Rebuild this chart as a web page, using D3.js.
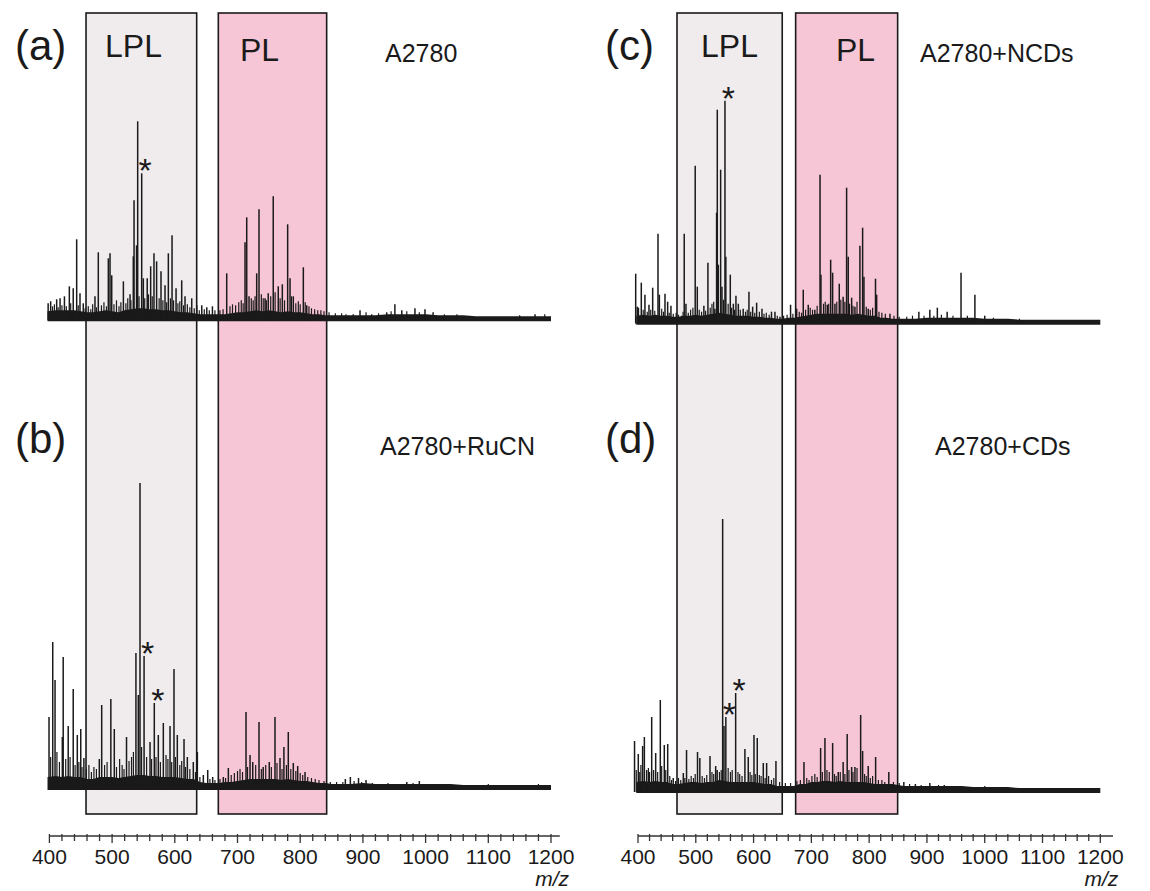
<!DOCTYPE html>
<html><head><meta charset="utf-8">
<script src="https://cdn.jsdelivr.net/npm/d3@7"></script>
<style>
body{margin:0;background:#fff}
svg{display:block}
text{font-family:"Liberation Sans",Arial,sans-serif;fill:#1a1a1a}
</style>
</head><body>
<svg id="c" width="1150" height="891"></svg>
<script>
// ---------------- DATA ----------------
const tickValues = [400,500,600,700,800,900,1000,1100,1200];
const axisTitle = "m/z";
const panelLabels = ["(a)","(b)","(c)","(d)"];
const sampleNames = ["A2780","A2780+RuCN","A2780+NCDs","A2780+CDs"];
const regionNames = ["LPL","PL"];
// m/z ranges of the shaded regions (left column, right column)
const regionsLeft  = [[458.4,634.9],[669.4,842.2]];
const regionsRight = [[467.5,649.6],[672.8,849.3]];

// baseline noise envelope (relative intensity) sampled at these m/z
const noiseGrid = [397,410,420,430,440,450,460,470,480,490,500,510,520,530,540,550,560,570,580,590,600,610,620,630,640,650,660,670,680,690,700,710,720,730,740,750,760,770,780,790,800,810,820,830,840,850,860,880,900,920,940,960,980,1000,1020,1040,1060,1080,1100,1120,1140,1160,1180,1200];
const noiseA = [7,8,8,8,8,7,6,6,7,8,7,6,8,9,10,10,9,9,8,8,7,6,6,5,4,4,4,4,4,5,6,6,7,8,7,8,7,6,7,6,6,5,4,4,3,3,3,3,3,3,4,4,4,4,3,3,3,2,2,2,2,2,2,2];
const noiseB = [10,11,10,11,10,10,8,8,10,10,10,9,10,11,12,12,11,11,10,10,10,9,8,8,5,4,4,4,5,5,6,7,8,8,8,8,8,7,8,7,6,6,5,4,4,3,3,3,4,3,3,3,3,3,3,3,2,2,2,2,2,2,2,2];
const noiseC = [6,7,6,7,6,6,5,5,6,6,7,6,7,8,9,8,7,6,6,6,5,5,4,4,3,3,4,4,5,6,7,8,8,8,8,8,8,7,8,7,6,6,4,4,3,3,3,3,4,4,4,4,4,3,3,3,2,2,2,2,2,2,2,2];
const noiseD = [8,9,8,9,8,8,6,6,7,8,8,7,8,8,10,9,8,8,8,8,8,7,6,6,4,4,4,4,6,6,8,8,9,9,8,9,8,8,8,8,7,6,6,6,6,5,4,4,4,4,4,4,3,3,3,3,2,2,2,2,2,2,2,2];

// main peaks: [m/z, relative intensity]
const peaksA = [[398,15],[402,17],[411.6,19],[417,20],[424,22],[431.8,32],[438,30],[443.5,79],[448.8,25],[454,15],[472.7,22],[478,66],[494,60],[496.7,65],[499.4,43],[518,37],[528.6,24],[533.8,62],[535,118],[539,73],[540.8,197],[547.2,145],[549.8,40],[556,40],[561.5,52],[566.8,65],[571,57],[578,47],[584.4,33],[589.7,65],[595.6,83],[602,30],[611,38],[616.3,22],[627,20],[635,13],[643,13],[651,11],[660,12],[682.8,45],[712,76],[714.7,101],[718.4,22],[730.6,45],[734.3,109],[744,20],[749,25],[757,122],[765,32],[771.5,34],[780,94],[783.8,40],[789,22],[805,51],[810.4,13],[884.7,4],[895.4,8],[914,4],[938,6],[951,14],[962,8],[983,10],[999,9],[1012,6],[1174.5,4]];
const peaksB = [[399.4,70],[405.3,145],[409,107],[420.6,50],[422,130],[430,61],[438,98],[444.5,52],[450,58],[455,29],[479.6,28],[483.4,82],[498,88],[503.5,58],[523,50],[538,134],[541.8,92],[544.5,304],[551,131],[560.5,45],[567.3,84],[573.7,52],[581.7,64],[592.4,61],[598.7,118],[604,52],[614.7,48],[620,30],[629.5,25],[636,35],[645.5,12],[652.5,17],[660.4,10],[677.4,10],[685.4,19],[713.6,75],[720,32],[724.3,25],[734.3,65],[741,20],[750.7,25],[759.8,70],[767.8,29],[774,40],[781,55],[789,24],[796,21],[807.7,15],[872,8],[880,10],[893,9],[905,7],[970,5],[990,6]];
const peaksC = [[396,48],[398.8,15],[405.7,39],[412,27],[419,17],[425.4,34],[434.6,88],[437,27],[446.7,28],[451.3,20],[457,16],[475.6,6],[480,88],[483,18],[499,156],[502.6,35],[514,16],[521,59],[533,13],[536,109],[537.2,212],[539,57],[543,152],[545.3,35],[550.5,221],[552,65],[559.7,47],[565,18],[569.5,26],[573.6,18],[582,13],[592,30],[598.4,15],[605.3,19],[614.5,13],[631,10],[637,10],[645.7,5],[664,17],[674.5,13],[686,32],[694.6,17],[706,12],[715,147],[716.6,47],[727.5,17],[733.4,62],[736.8,49],[740.8,18],[748.3,38],[755,25],[761,134],[763.8,65],[769.7,24],[775.4,15],[784,76],[788.7,94],[791,45],[798.4,13],[811,43],[813,27],[836,8],[886,10],[905,12],[918,14],[935,10],[959,49],[983,27],[1000,6]];
const peaksD = [[394,49],[400.5,36],[408,44],[411,53],[415,20],[423.7,73],[430.6,37],[438.6,90],[445.5,45],[451.4,46],[461,12],[478.4,17],[484,40],[503,38],[507,32],[524.6,34],[534.4,24],[537,20],[546.5,271],[548.8,64],[552,73],[569,97],[585,41],[590.8,33],[600.7,55],[606.4,52],[616.8,27],[622.6,27],[638.7,29],[687.2,28],[716,42],[723.5,52],[736.8,47],[746.5,18],[755,28],[762,56],[769.7,23],[775.4,23],[785.3,75],[788.7,39],[798.4,24],[811.2,33],[834,18],[860,8],[880,6],[905,7],[930,5]];

// small noise spikes: [m/z, relative intensity]
const minorA = [[405,12],[408,14],[414,11],[420,13],[427,12],[434,15],[446,13],[457,10],[462,12],[466,9],[469,14],[475,11],[483,13],[487,16],[491,12],[503,14],[507,18],[511,12],[514,16],[522,15],[525,20],[530,18],[543,22],[552,20],[558,24],[564,22],[575,20],[581,18],[587,16],[593,20],[598,18],[605,15],[608,17],[614,13],[620,14],[624,11],[631,10],[639,8],[647,9],[655,8],[664,8],[672,8],[677,9],[688,12],[692,14],[697,13],[702,16],[706,18],[709,15],[722,20],[725,18],[728,22],[738,24],[741,20],[746,18],[753,22],[760,26],[768,20],[775,18],[786,22],[793,15],[797,17],[800,14],[808,16],[814,12],[818,10],[823,9],[828,8],[833,8],[838,7],[846,6],[856,5],[866,5],[873,4],[905,6],[925,5],[945,7],[970,7],[990,6],[1030,4],[1050,4],[1150,3],[1190,4]];
const minorB = [[402,30],[412,35],[416,25],[426,28],[433,30],[441,22],[447,25],[452,20],[459,18],[463,22],[467,15],[471,20],[475,18],[488,22],[492,25],[507,20],[512,28],[516,22],[519,18],[527,26],[531,30],[534,35],[547,40],[555,30],[563,28],[570,30],[577,25],[586,32],[589,28],[595,25],[601,30],[608,22],[611,26],[617,20],[624,18],[633,15],[640,10],[656,8],[664,7],[672,8],[681,9],[690,12],[695,14],[700,16],[704,18],[708,15],[716,20],[729,22],[738,18],[745,22],[754,20],[763,24],[771,18],[778,22],[785,18],[793,16],[800,14],[804,12],[812,10],[818,9],[824,8],[830,7],[838,6],[848,5],[858,5],[868,5],[886,6],[898,5],[915,4],[940,4],[980,4],[1010,3],[1100,3],[1180,3]];
const minorC = [[401,14],[409,12],[416,10],[422,12],[429,11],[441,13],[444,10],[454,9],[461,8],[466,9],[470,7],[478,10],[487,9],[491,12],[495,14],[506,12],[510,10],[517,11],[525,14],[528,18],[531,20],[548,22],[556,18],[562,14],[567,12],[577,12],[586,10],[589,12],[595,10],[602,9],[610,10],[618,8],[622,9],[627,7],[641,6],[652,6],[658,7],[668,8],[679,10],[683,9],[690,12],[698,14],[702,12],[710,16],[721,18],[724,20],[730,18],[744,20],[751,22],[758,20],[766,18],[772,16],[779,20],[795,15],[802,12],[806,14],[817,10],[822,9],[828,8],[843,6],[852,5],[865,5],[875,6],[895,6],[912,6],[925,7],[945,6],[970,6],[1015,4],[1060,3]];
const minorD = [[397,20],[403,18],[405,25],[418,22],[420,18],[427,20],[434,18],[441,24],[448,20],[455,14],[458,10],[465,9],[470,12],[474,10],[481,12],[488,11],[492,14],[496,12],[499,16],[511,14],[515,12],[519,15],[528,18],[531,16],[541,18],[544,20],[556,22],[560,18],[563,20],[573,18],[576,16],[580,14],[594,18],[597,15],[603,16],[610,15],[613,14],[620,12],[626,14],[631,10],[635,12],[645,8],[655,7],[664,7],[675,9],[681,10],[692,12],[696,10],[701,14],[706,16],[710,13],[719,18],[727,20],[731,18],[740,16],[743,14],[750,18],[758,16],[765,20],[772,18],[779,22],[792,16],[795,14],[802,12],[806,14],[816,10],[822,10],[827,8],[842,8],[852,7],[870,6],[890,5],[920,5],[955,4],[1000,4],[1040,3]];

// peaks marked with an asterisk (m/z)
const starsA = [547.2];
const starsB = [551,567.3];
const starsC = [550.5];
const starsD = [552,569];

// ---------------- LAYOUT ----------------
const svg = d3.select("#c");
const ink = "#1a1a1a";
const cols = [
  {x0:49.4, x1:551, axisEnd:1214, regions:regionsLeft, labelX:15, nameX:[385,380], lplX:105, plX:240},
  {x0:638, x1:1100.3, axisEnd:1222, regions:regionsRight, labelX:605, nameX:[920,935], lplX:701, plX:836}
];
cols.forEach(c => { c.x = d3.scaleLinear().domain([400,1200]).range([c.x0,c.x1]); });
const boxTop = 13, boxBottom = 814;
const regionFills = ["#f0ecee","#f7c6d6"];

cols.forEach(c => {
  svg.append("g").selectAll("rect").data(c.regions).join("rect")
    .attr("x", d => c.x(d[0])).attr("y", boxTop)
    .attr("width", d => c.x(d[1]) - c.x(d[0])).attr("height", boxBottom - boxTop)
    .attr("fill", (d,i) => regionFills[i]).attr("stroke", ink).attr("stroke-width", 1.6);
});

const panels = [
  {col:0, row:0, base:318.3, peaks:peaksA, minor:minorA, noise:noiseA, stars:starsA},
  {col:0, row:1, base:787,   peaks:peaksB, minor:minorB, noise:noiseB, stars:starsB},
  {col:1, row:0, base:321.7, peaks:peaksC, minor:minorC, noise:noiseC, stars:starsC},
  {col:1, row:1, base:790,   peaks:peaksD, minor:minorD, noise:noiseD, stars:starsD}
];

panels.forEach((p, pi) => {
  const x = cols[p.col].x;
  const y = d3.scaleLinear().domain([0,300]).range([p.base, p.base - 300]);
  const pts = noiseGrid.map((m,i) => [m, p.noise[i]]);
  const area = d3.area().x(d => x(d[0])).y0(p.base + 3).y1(d => y(d[1]));
  svg.append("path").attr("d", area(pts)).attr("fill", ink);
  svg.append("g").selectAll("line").data(p.minor).join("line")
    .attr("x1", d => x(d[0])).attr("x2", d => x(d[0]))
    .attr("y1", p.base + 2).attr("y2", d => y(d[1]))
    .attr("stroke", ink).attr("stroke-width", 1.2);
  svg.append("g").selectAll("line").data(p.peaks).join("line")
    .attr("x1", d => x(d[0])).attr("x2", d => x(d[0]))
    .attr("y1", p.base + 2).attr("y2", d => y(d[1]))
    .attr("stroke", ink).attr("stroke-width", 1.5);
  const starData = p.stars.map(m => p.peaks.find(d => d[0] === m));
  svg.append("g").selectAll("text").data(starData).join("text")
    .attr("x", d => x(d[0]) + 3.5).attr("y", d => y(d[1]) - 10 + 19)
    .attr("text-anchor", "middle").attr("font-size", 34).text("*");
  const c = cols[p.col];
  const by = p.row === 0 ? 0 : 393;
  svg.append("text").attr("x", c.labelX).attr("y", 60 + by).attr("font-size", 42).text(panelLabels[pi]);
  svg.append("text").attr("x", c.nameX[p.row]).attr("y", 62 + by).attr("font-size", 25).text(sampleNames[pi]);
  if (p.row === 0) {
    svg.append("text").attr("x", c.lplX).attr("y", 57).attr("font-size", 32).text(regionNames[0]);
    svg.append("text").attr("x", c.plX).attr("y", 61).attr("font-size", 32).text(regionNames[1]);
  }
});

// axes
const axisY = 836;
cols.forEach(c => {
  const g = svg.append("g");
  g.append("line").attr("x1", c.x(400)).attr("x2", c.x(c.axisEnd)).attr("y1", axisY).attr("y2", axisY)
    .attr("stroke", "#333").attr("stroke-width", 1.6);
  g.selectAll("line.t").data(d3.range(400, 1201, 20)).join("line").attr("class","t")
    .attr("x1", d => c.x(d)).attr("x2", d => c.x(d))
    .attr("y1", axisY - 2).attr("y2", d => axisY + (d % 100 === 0 ? 7 : 5))
    .attr("stroke", "#333").attr("stroke-width", 1.3);
  g.selectAll("text.tl").data(tickValues).join("text").attr("class","tl")
    .attr("x", d => c.x(d)).attr("y", 864).attr("text-anchor", "middle").attr("font-size", 21)
    .text(d => d);
  g.append("text").attr("x", c.x(1200) + 18).attr("y", 886).attr("text-anchor", "end")
    .attr("font-size", 21).attr("font-style", "italic").text(axisTitle);
});
</script>
</body></html>
